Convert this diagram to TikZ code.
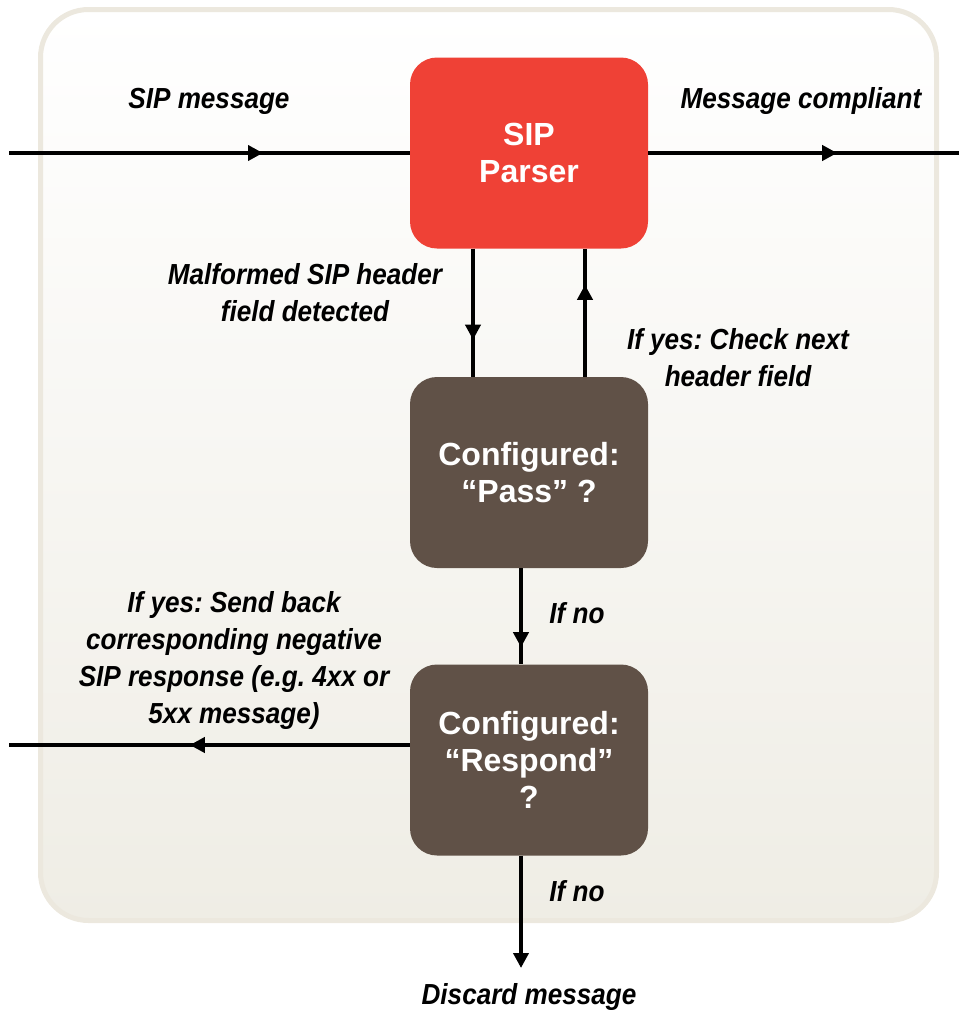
\documentclass[tikz,border=0pt]{standalone}
\usepackage{fontspec}
\setmainfont{Liberation Sans}
\newfontfamily\labelfont[FakeStretch=0.9]{Liberation Sans}
\usetikzlibrary{arrows.meta,decorations.markings}
\definecolor{parserred}{RGB}{239,65,54}
\definecolor{decbrown}{RGB}{96,81,71}
\definecolor{paneledge}{RGB}{236,232,222}
\definecolor{panelbot}{RGB}{239,237,229}
\frenchspacing

\begin{document}
\begin{tikzpicture}[x=1pt,y=-1pt,
  box/.style={rounded corners=27pt, minimum width=238pt, minimum height=191pt,
    inner sep=0pt, align=center, text=white,
    font=\fontsize{32}{37}\selectfont\bfseries},
  lbl/.style={inner sep=0pt, align=center,
    font=\labelfont\fontsize{29}{37}\selectfont\bfseries\itshape},
  flow/.style={line width=4pt},
  tipat/.style={postaction={decorate}, decoration={markings,
    mark=at position #1 with {\arrow{Triangle[length=15pt,width=15pt]}}}},
]
\useasboundingbox (0,0) rectangle (959,1010);

% rounded panel behind the flow
\path[rounded corners=48pt, line width=5pt, draw=paneledge,
  top color=white, bottom color=panelbot] (40.5,9.5) rectangle (936.5,920.5);

% decision boxes
\node[box, fill=parserred] (parser) at (529,153) {SIP\\Parser};
\node[box, fill=decbrown] (pass) at (529,472.5) {Configured:\\“Pass” ?};
\node[box, fill=decbrown] (respond) at (529,760) {Configured:\\“Respond”\\?};

% free ends of the connectors
\coordinate (src) at (9,153);
\coordinate (sink) at (959,153);
\coordinate (reject) at (9,745);
\coordinate (drop) at (521,968);

% connectors
\draw[flow, tipat=254pt] (src) -- (parser.west);
\draw[flow, tipat=189pt] (parser.east) -- (sink);
\draw[flow, tipat=91pt] ([xshift=-56pt]parser.south) -- ([xshift=-56pt]pass.north);
\draw[flow, tipat=92pt] ([xshift=56pt]pass.north) -- ([xshift=56pt]parser.south);
\draw[flow, tipat=79pt] ([xshift=-8pt]pass.south) -- ([xshift=-8pt]respond.north);
\draw[flow, tipat=220pt] ([yshift=15pt]respond.west) -- (reject);
\draw[flow, -{Triangle[length=15pt,width=15pt]}] ([xshift=-8pt]respond.south) -- (drop);

% labels
\node[lbl] (inlbl) at (209,101) {SIP message};
\node[lbl] (outlbl) at (801,101) {Message compliant};
\node[lbl] (malformed) at (305,292.5) {Malformed SIP header\\field detected};
\node[lbl] (nextfield) at (738,357.5) {If yes: Check next\\header field};
\node[lbl] (nopass) at (577,613) {If no};
\node[lbl] (respondlbl) at (234,660) {If yes: Send back\\corresponding negative\\SIP response (e.g. 4xx or\\5xx message)};
\node[lbl] (norespond) at (577,891) {If no};
\node[lbl] (discard) at (529,996.5) {Discard message};
\end{tikzpicture}
\end{document}
